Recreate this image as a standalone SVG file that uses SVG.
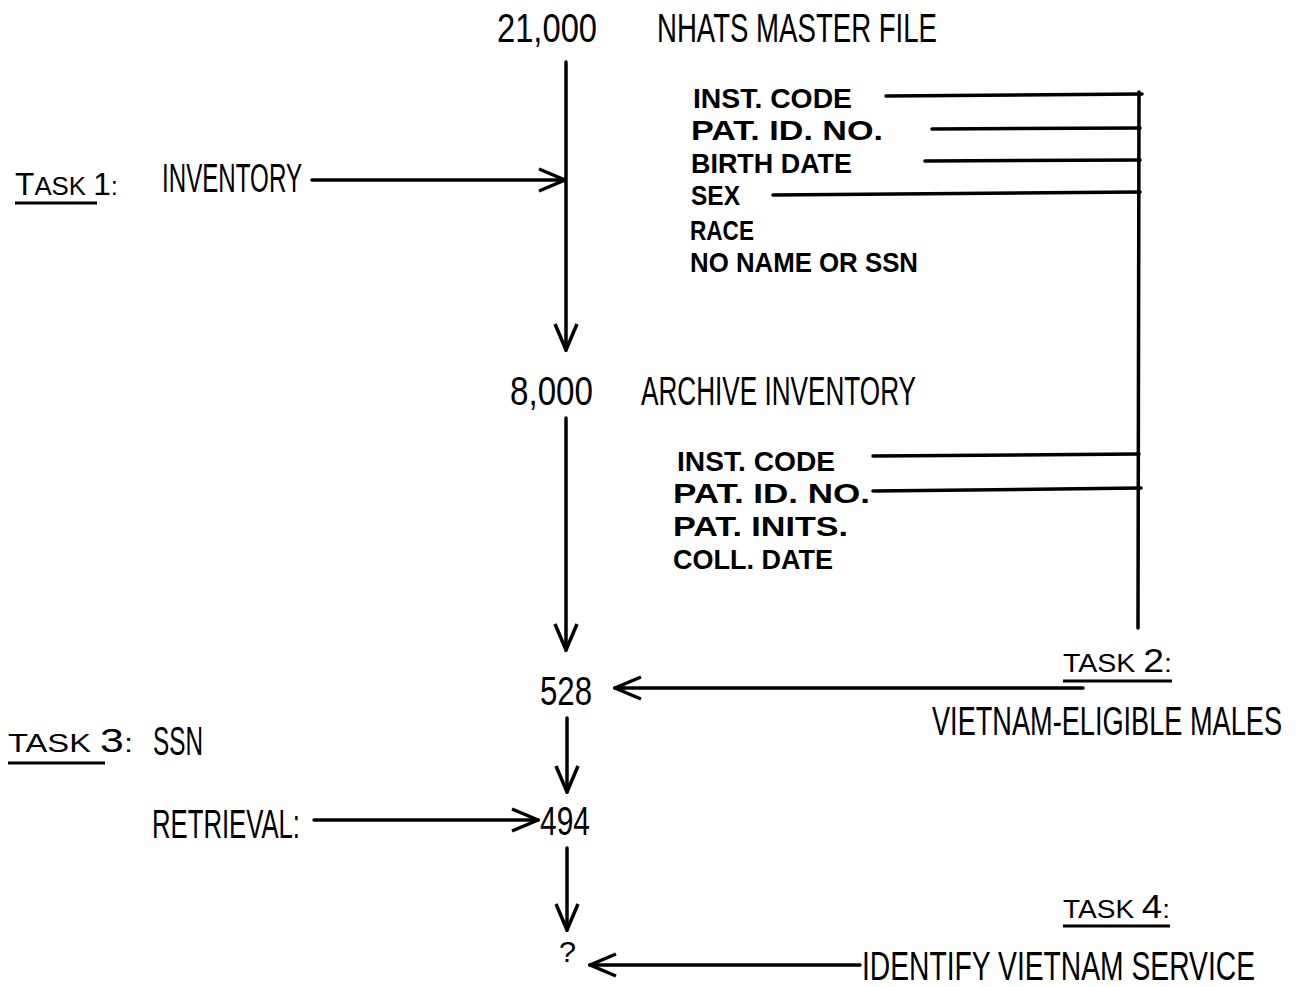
<svg xmlns="http://www.w3.org/2000/svg" width="1302" height="987" viewBox="0 0 1302 987">
<style>
text{font-family:"Liberation Sans Narrow","Liberation Sans",sans-serif;fill:#000}
.big{font-size:40px}
.fld{font-size:28px;font-weight:bold;font-family:"Liberation Sans","DejaVu Sans",sans-serif}
.task{font-size:26px}
.num{font-size:40px}
.ln{stroke:#000;stroke-width:3.5;fill:none;stroke-linecap:round}
.ul{stroke:#000;stroke-width:3;fill:none}
</style>
<defs>
<marker id="chev" viewBox="0 0 30 26" markerWidth="30" markerHeight="26" refX="28" refY="13" orient="auto" markerUnits="userSpaceOnUse">
<path d="M2,2 L28,13 L2,24" fill="none" stroke="#000" stroke-width="3.5" stroke-linejoin="miter"/>
</marker>
</defs>
<rect width="1302" height="987" fill="#fff"/>

<g id="connectors">
<line class="ln" x1="566" y1="62" x2="566" y2="350" marker-end="url(#chev)"/>
<line class="ln" x1="566" y1="418" x2="566" y2="650" marker-end="url(#chev)"/>
<line class="ln" x1="567" y1="718" x2="567" y2="792" marker-end="url(#chev)"/>
<line class="ln" x1="567" y1="848" x2="567" y2="930" marker-end="url(#chev)"/>
<line class="ln" x1="312" y1="180" x2="565" y2="180" marker-end="url(#chev)"/>
<line class="ln" x1="1083" y1="688" x2="615" y2="688" marker-end="url(#chev)"/>
<line class="ln" x1="314" y1="820" x2="538" y2="820" marker-end="url(#chev)"/>
<line class="ln" x1="860" y1="965" x2="590" y2="965" marker-end="url(#chev)"/>
<line class="ln" x1="1139" y1="92" x2="1138" y2="628"/>
<line class="ln" x1="886" y1="96" x2="1142" y2="94"/>
<line class="ln" x1="932" y1="129" x2="1140" y2="128"/>
<line class="ln" x1="925" y1="161" x2="1140" y2="160"/>
<line class="ln" x1="773" y1="195" x2="1140" y2="192"/>
<line class="ln" x1="873" y1="456" x2="1139" y2="454"/>
<line class="ln" x1="873" y1="491" x2="1141" y2="488"/>
</g>

<g id="node-21000">
<text class="num" x="497" y="42" textLength="100" lengthAdjust="spacingAndGlyphs">21,000</text>
<text class="big" x="657" y="42" textLength="280" lengthAdjust="spacingAndGlyphs">NHATS MASTER FILE</text>
</g>

<g id="fields-master">
<text class="fld" x="693" y="108" textLength="159" lengthAdjust="spacingAndGlyphs">INST. CODE</text>
<text class="fld" x="691" y="140" textLength="192" lengthAdjust="spacingAndGlyphs">PAT. ID. NO.</text>
<text class="fld" x="691" y="173" textLength="161" lengthAdjust="spacingAndGlyphs">BIRTH DATE</text>
<text class="fld" x="691" y="205" textLength="49" lengthAdjust="spacingAndGlyphs">SEX</text>
<text class="fld" x="690" y="240" textLength="64" lengthAdjust="spacingAndGlyphs">RACE</text>
<text class="fld" x="690" y="272" textLength="228" lengthAdjust="spacingAndGlyphs">NO NAME OR SSN</text>
</g>

<g id="task1">
<text x="15" y="195" class="task" textLength="103" lengthAdjust="spacingAndGlyphs"><tspan font-size="32">T</tspan>ASK <tspan font-size="32">1</tspan>:</text>
<line class="ul" x1="15" y1="203" x2="97" y2="203"/>
<text class="big" x="162" y="192" textLength="140" lengthAdjust="spacingAndGlyphs">INVENTORY</text>
</g>

<g id="node-8000">
<text class="num" x="510" y="405" textLength="83" lengthAdjust="spacingAndGlyphs">8,000</text>
<text class="big" x="641" y="405" textLength="275" lengthAdjust="spacingAndGlyphs">ARCHIVE INVENTORY</text>
</g>

<g id="fields-archive">
<text class="fld" x="677" y="471" textLength="158" lengthAdjust="spacingAndGlyphs">INST. CODE</text>
<text class="fld" x="673" y="503" textLength="197" lengthAdjust="spacingAndGlyphs">PAT. ID. NO.</text>
<text class="fld" x="673" y="536" textLength="175" lengthAdjust="spacingAndGlyphs">PAT. INITS.</text>
<text class="fld" x="673" y="569" textLength="160" lengthAdjust="spacingAndGlyphs">COLL. DATE</text>
</g>

<g id="node-528">
<text class="num" x="540" y="705" textLength="52" lengthAdjust="spacingAndGlyphs">528</text>
</g>

<g id="task2">
<text x="1063" y="672" class="task" textLength="109" lengthAdjust="spacingAndGlyphs">TASK <tspan font-size="34">2</tspan>:</text>
<line class="ul" x1="1063" y1="681" x2="1172" y2="681"/>
<text class="big" x="932" y="735" textLength="350" lengthAdjust="spacingAndGlyphs">VIETNAM-ELIGIBLE MALES</text>
</g>

<g id="task3">
<text x="8" y="752" class="task" textLength="125" lengthAdjust="spacingAndGlyphs">TASK <tspan font-size="34">3</tspan>:</text>
<line class="ul" x1="8" y1="763" x2="105" y2="763"/>
<text class="big" x="153" y="755" textLength="50" lengthAdjust="spacingAndGlyphs">SSN</text>
<text class="big" x="152" y="838" textLength="148" lengthAdjust="spacingAndGlyphs">RETRIEVAL:</text>
</g>

<g id="node-494">
<text class="num" x="540" y="835" textLength="50" lengthAdjust="spacingAndGlyphs">494</text>
</g>

<g id="node-unknown">
<text x="559" y="962" font-size="30" textLength="17" lengthAdjust="spacingAndGlyphs">?</text>
</g>

<g id="task4">
<text x="1063" y="918" class="task" textLength="107" lengthAdjust="spacingAndGlyphs">TASK <tspan font-size="34">4</tspan>:</text>
<line class="ul" x1="1063" y1="926" x2="1170" y2="926"/>
<text class="big" x="862" y="980" textLength="393" lengthAdjust="spacingAndGlyphs">IDENTIFY VIETNAM SERVICE</text>
</g>
</svg>
